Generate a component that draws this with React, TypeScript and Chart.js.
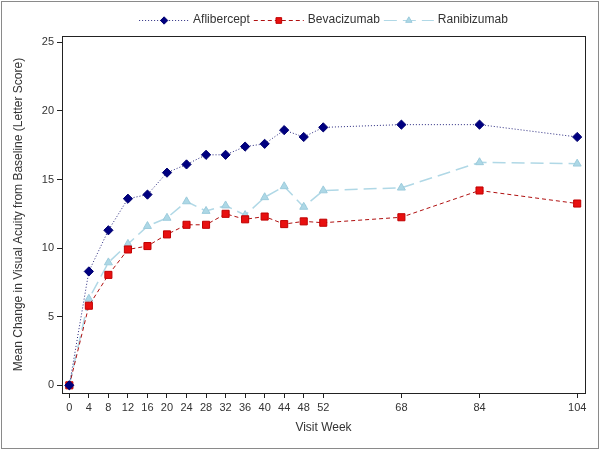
import React, { useEffect, useRef } from 'react';
import { Chart, registerables } from 'chart.js';
import { drawPoint } from 'chart.js/helpers';

Chart.register(...registerables);

const weeks = [0, 4, 8, 12, 16, 20, 24, 28, 32, 36, 40, 44, 48, 52, 68, 84, 104];
const aflibercept = [0, 8.3, 11.3, 13.6, 13.9, 15.5, 16.1, 16.8, 16.8, 17.4, 17.6, 18.6, 18.1, 18.8, 19.0, 19.0, 18.1];
const bevacizumab = [0, 5.8, 8.05, 9.9, 10.15, 11.0, 11.7, 11.7, 12.5, 12.1, 12.3, 11.75, 11.95, 11.85, 12.25, 14.2, 13.25];
const ranibizumab = [0, 6.3, 8.95, 10.3, 11.6, 12.2, 13.4, 12.7, 13.1, 12.4, 13.7, 14.5, 13.0, 14.2, 14.4, 16.25, 16.15];
const seriesNames = ['Aflibercept', 'Bevacizumab', 'Ranibizumab'];
const xTicks = [0, 4, 8, 12, 16, 20, 24, 28, 32, 36, 40, 44, 48, 52, 68, 84, 104];
const yTicks = [0, 5, 10, 15, 20, 25];
const xTitle = 'Visit Week';
const yTitle = 'Mean Change in Visual Acuity from Baseline (Letter Score)';

const FONT = '"Liberation Sans", Arial, Helvetica, sans-serif';
const TEXT = '#333333';

const toXY = (vals: number[]) => vals.map((v, i) => ({ x: weeks[i], y: v }));

const bgPlugin = {
  id: 'bgFrame',
  beforeDraw(chart: any) {
    const ctx = chart.ctx;
    ctx.save();
    ctx.fillStyle = '#ffffff';
    ctx.fillRect(0, 0, chart.width, chart.height);
    ctx.restore();
  },
  afterDraw(chart: any) {
    const ctx = chart.ctx;
    const ca = chart.chartArea;
    ctx.save();
    ctx.strokeStyle = '#222222';
    ctx.lineWidth = 1;
    ctx.strokeRect(Math.round(ca.left) + 0.5, Math.round(ca.top) + 0.5, Math.round(ca.right - ca.left), Math.round(ca.bottom - ca.top));
    ctx.strokeStyle = '#8a8a8a';
    ctx.strokeRect(1.5, 1.5, chart.width - 3, chart.height - 3);
    ctx.restore();
  },
};

const legendPlugin = {
  id: 'lineLegend',
  afterDraw(chart: any) {
    const ctx = chart.ctx;
    const ca = chart.chartArea;
    ctx.save();
    ctx.font = `12px ${FONT}`;
    const lineLen = 50;
    const gap1 = 4;
    const gap2 = 4;
    const items = chart.data.datasets.map((ds: any) => ({ ds, w: ctx.measureText(ds.label).width }));
    const total = items.reduce((a: number, it: any) => a + lineLen + gap1 + it.w, 0) + gap2 * (items.length - 1);
    let x = (ca.left + ca.right) / 2 - total / 2;
    const y = 20;
    items.forEach(({ ds, w }: any) => {
      ctx.strokeStyle = ds.borderColor;
      ctx.lineWidth = 1;
      ctx.setLineDash(ds.borderDash || []);
      ctx.beginPath();
      ctx.moveTo(x, y + 0.5);
      ctx.lineTo(x + lineLen, y + 0.5);
      ctx.stroke();
      ctx.setLineDash([]);
      ctx.fillStyle = ds.pointBackgroundColor;
      ctx.strokeStyle = ds.pointBorderColor;
      ctx.lineWidth = 1;
      drawPoint(ctx, { pointStyle: ds.pointStyle, rotation: 0, radius: ds.pointRadius * 0.8, borderWidth: 1 }, x + lineLen / 2, y + 0.5);
      ctx.fillStyle = TEXT;
      ctx.textBaseline = 'middle';
      ctx.textAlign = 'left';
      ctx.fillText(ds.label, x + lineLen + gap1, y);
      x += lineLen + gap1 + w + gap2;
    });
    ctx.restore();
  },
};

export default function App() {
  const ref = useRef<HTMLCanvasElement | null>(null);
  useEffect(() => {
    document.body.style.margin = '0';
    if (!ref.current) return;
    const chart = new Chart(ref.current, {
      type: 'line',
      data: {
        datasets: [
          {
            label: seriesNames[0],
            data: toXY(aflibercept),
            borderColor: '#2a2a80',
            borderWidth: 1,
            borderDash: [1, 2],
            pointStyle: 'rectRot',
            pointRadius: 4.6,
            pointBackgroundColor: '#000080',
            pointBorderColor: '#000070',
            pointBorderWidth: 1,
            fill: false,
            tension: 0,
          },
          {
            label: seriesNames[1],
            data: toXY(bevacizumab),
            borderColor: '#b01010',
            borderWidth: 1,
            borderDash: [4, 3],
            pointStyle: 'rect',
            pointRadius: 5,
            pointBackgroundColor: '#e81010',
            pointBorderColor: '#c00000',
            pointBorderWidth: 1,
            fill: false,
            tension: 0,
          },
          {
            label: seriesNames[2],
            data: toXY(ranibizumab),
            borderColor: '#b0d8e6',
            borderWidth: 1.5,
            borderDash: [13, 6],
            pointStyle: 'triangle',
            pointRadius: 4.6,
            pointBackgroundColor: '#add8e6',
            pointBorderColor: '#9ccbdc',
            pointBorderWidth: 1,
            fill: false,
            tension: 0,
          },
        ],
      },
      options: {
        responsive: false,
        animation: false,
        devicePixelRatio: 1,
        layout: { padding: { top: 36, right: 15, left: 0, bottom: 0 } },
        plugins: {
          legend: { display: false },
          tooltip: { enabled: false },
        },
        scales: {
          x: {
            type: 'linear',
            min: -1.5,
            max: 105.6,
            afterBuildTicks: (s: any) => {
              s.ticks = xTicks.map((v) => ({ value: v }));
            },
            afterFit: (s: any) => {
              s.height = 57;
            },
            grid: { display: true, drawOnChartArea: false, drawTicks: true, tickLength: 5, tickColor: '#222222' },
            border: { display: false },
            ticks: { font: { family: FONT, size: 11 }, color: TEXT, padding: 3, maxRotation: 0, autoSkip: false },
            title: { display: true, text: xTitle, font: { family: FONT, size: 12 }, color: TEXT, padding: { top: 4, bottom: 15 } },
          },
          y: {
            type: 'linear',
            min: -0.56,
            max: 25.46,
            afterBuildTicks: (s: any) => {
              s.ticks = yTicks.map((v) => ({ value: v }));
            },
            afterFit: (s: any) => {
              s.width = 62;
            },
            grid: { display: true, drawOnChartArea: false, drawTicks: true, tickLength: 5, tickColor: '#222222' },
            border: { display: false },
            ticks: { font: { family: FONT, size: 11 }, color: TEXT, padding: 3 },
            title: { display: true, text: yTitle, font: { family: FONT, size: 12 }, color: TEXT, padding: { top: 11, bottom: 4 } },
          },
        },
      },
      plugins: [bgPlugin, legendPlugin],
    });
    return () => chart.destroy();
  }, []);
  return <canvas ref={ref} width={600} height={450} style={{ display: 'block', width: 600, height: 450 }} />;
}
